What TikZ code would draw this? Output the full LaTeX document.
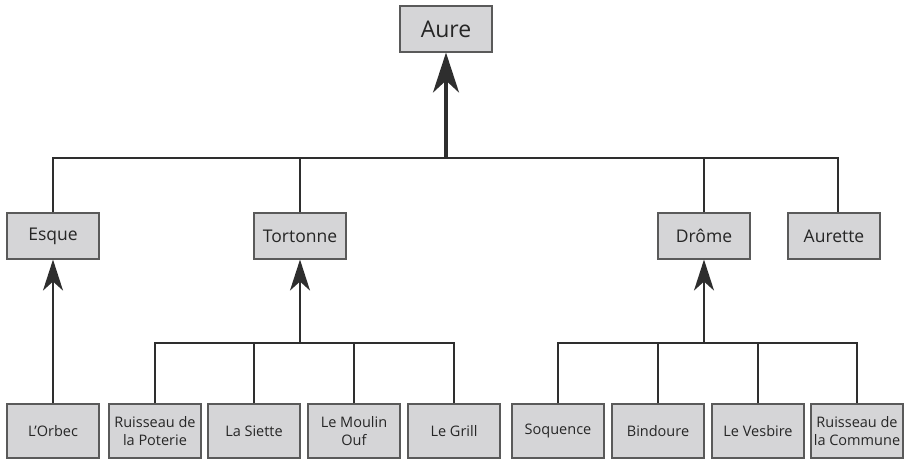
\documentclass[tikz,border=0pt]{standalone}
\usepackage{fontspec}
\setmainfont{Open Sans}
\usetikzlibrary{arrows.meta}
\definecolor{boxfill}{HTML}{D5D5D7}
\definecolor{boxline}{HTML}{5A5A5A}
\definecolor{conn}{HTML}{2E2E2E}
\tikzset{
  every picture/.style={x=1pt,y=-1pt},
  box/.style={draw=boxline, line width=1.1pt, fill=boxfill, minimum width=92pt, inner sep=1pt, align=center, text=black!85},
  topbox/.style={box, minimum height=46pt, font=\fontsize{23}{25}\selectfont},
  midbox/.style={box, minimum height=46pt, font=\fontsize{17.5}{20}\selectfont},
  lowbox/.style={box, minimum height=54pt, font=\fontsize{14.5}{18.5}\selectfont},
  conline/.style={draw=conn, line width=2pt},
  bigline/.style={draw=conn, line width=2.6pt},
  upar/.style={conline, -{Stealth[length=31pt,width=20pt,inset=9pt]}},
  bigar/.style={draw=conn, line width=3.2pt, -{Stealth[length=40pt,width=26pt,inset=12pt]}}
}
\begin{document}
\begin{tikzpicture}
\useasboundingbox (0,0) rectangle (907,460);
\node[topbox] (aure) at (446,29) {Aure};
\node[midbox] (esque) at (53,236) {Esque};
\node[midbox] (tort) at (300,236) {Tortonne};
\node[midbox] (drome) at (704,236) {Drôme};
\node[midbox] (aurette) at (834,236) {Aurette};
\node[lowbox] (orbec) at (53,431) {L’Orbec};
\node[lowbox] (poterie) at (155,431) {Ruisseau de\\la Poterie};
\node[lowbox] (siette) at (254,431) {La Siette};
\node[lowbox] (moulin) at (354,431) {Le Moulin\\Ouf};
\node[lowbox] (grill) at (454,431) {Le Grill};
\node[lowbox] (soq) at (558,431) {Soquence};
\node[lowbox] (bind) at (658,431) {Bindoure};
\node[lowbox] (vesb) at (758,431) {Le Vesbire};
\node[lowbox] (commune) at (857,431) {Ruisseau de\\la Commune};
% top bus
\coordinate (tb) at (446,158);
\draw[bigline] (esque.north) |- (tb) -| (aurette.north -| 838,0);
\draw[bigline] (tort.north) -- (tort.north |- tb);
\draw[bigline] (drome.north) -- (drome.north |- tb);
\draw[bigar] (tb) -- (aure.south);
% Esque
\draw[upar] (orbec.north) -- (esque.south);
% Tortonne bus
\coordinate (tbus) at (300,343);
\draw[conline] (poterie.north) |- (tbus) -| (grill.north);
\draw[conline] (siette.north) -- (siette.north |- tbus);
\draw[conline] (moulin.north) -- (moulin.north |- tbus);
\draw[upar] (tbus) -- (tort.south);
% Drome bus
\coordinate (dbus) at (704,343);
\draw[conline] (soq.north) |- (dbus) -| (commune.north);
\draw[conline] (bind.north) -- (bind.north |- dbus);
\draw[conline] (vesb.north) -- (vesb.north |- dbus);
\draw[upar] (dbus) -- (drome.south);
\end{tikzpicture}
\end{document}
